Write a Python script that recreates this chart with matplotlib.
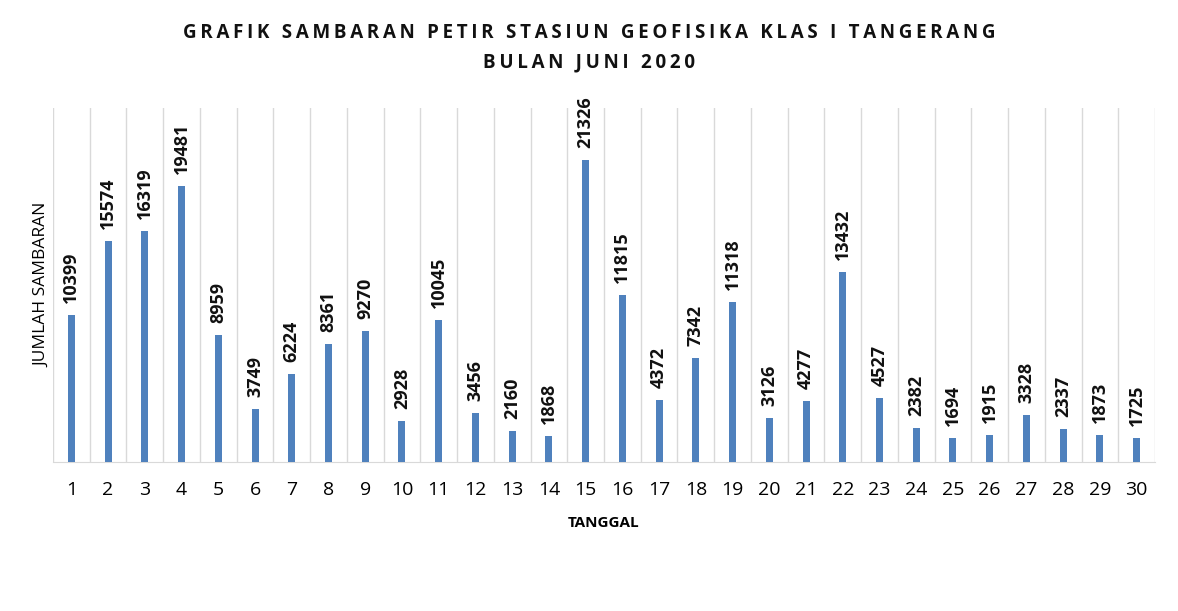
import matplotlib.pyplot as plt

# data sambaran petir juni 2020
tanggal = list(range(1, 31))
sambaran = [10399, 15574, 16319, 19481, 8959, 3749, 6224, 8361, 9270, 2928,
            10045, 3456, 2160, 1868, 21326, 11815, 4372, 7342, 11318, 3126,
            4277, 13432, 4527, 2382, 1694, 1915, 3328, 2337, 1873, 1725]

judul1 = 'GRAFIK SAMBARAN PETIR STASIUN GEOFISIKA KLAS I TANGERANG'
judul2 = 'BULAN JUNI 2020'

plt.rcParams['font.family'] = ['Open Sans', 'DejaVu Sans']


def renggang(teks):
    # jarak antar huruf pakai thin space
    return '\u2009'.join(teks)


fig = plt.figure(figsize=(11.78, 6.11), dpi=100)
ax = fig.add_axes([53/1178, 1 - 462/611, (1155 - 53)/1178, (462 - 108)/611])

ax.bar(tanggal, sambaran, width=0.19, color='#4f81bd', zorder=3)
for x, v in zip(tanggal, sambaran):
    ax.text(x, v + 850, str(v), rotation=90, ha='center', va='bottom',
            fontsize=13, fontweight='bold', color='#111111', zorder=4)

ax.set_xlim(0.5, 30.5)
ax.set_ylim(0, 25000)
# garis vertikal antar kategori
for b in range(31):
    ax.axvline(b + 0.5, color='#d9d9d9', linewidth=1, zorder=1)

ax.set_xticks(tanggal)
ax.set_xticklabels([str(t) for t in tanggal], fontsize=14)
ax.tick_params(axis='x', length=0, pad=14)
ax.set_yticks([])
for s in ['left', 'right', 'top']:
    ax.spines[s].set_visible(False)
ax.spines['bottom'].set_color('#d9d9d9')

ax.set_xlabel('TANGGAL', fontsize=11, fontweight='bold', labelpad=12)
ax.set_ylabel('JUMLAH SAMBARAN', fontsize=12.5, labelpad=2)

fig.text(0.5, 1 - 33/611, renggang(judul1),
         ha='center', va='center', fontsize=13.5, fontweight='bold', color='#111111')
fig.text(0.5, 1 - 62/611, renggang(judul2),
         ha='center', va='center', fontsize=13.5, fontweight='bold', color='#111111')

plt.savefig('out.png', dpi=100)
plt.close()
